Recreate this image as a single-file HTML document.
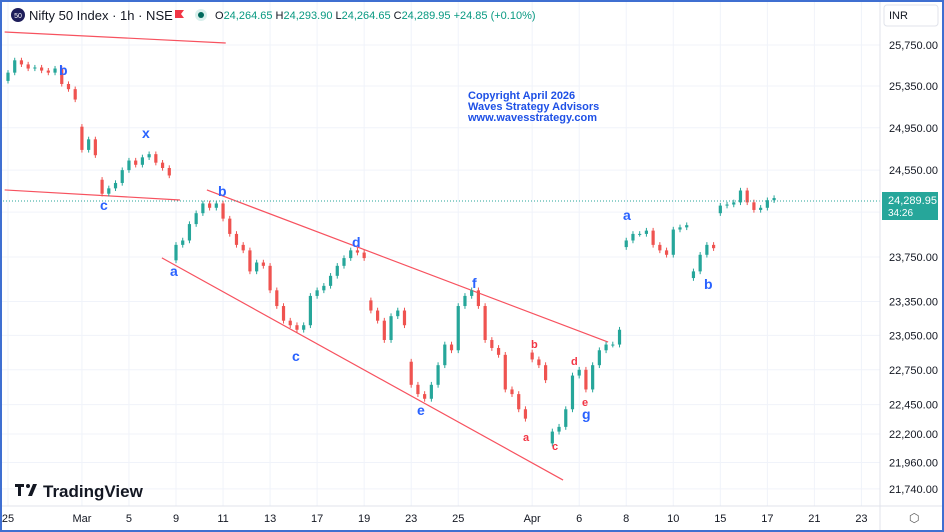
<!DOCTYPE html>
<html><head><meta charset="utf-8">
<style>
html,body{margin:0;padding:0;background:#fff;}
#wrap{position:relative;width:944px;height:532px;overflow:hidden;font-family:"Liberation Sans",sans-serif;}
svg text{font-family:"Liberation Sans",sans-serif;}
</style></head>
<body>
<div id="wrap">
<svg id="chart" width="944" height="532" xmlns="http://www.w3.org/2000/svg">
<rect x="0" y="0" width="944" height="532" fill="#fff"/>
<g id="grid"></g>
<g id="lines"></g>
<g id="candles"></g>
<line x1="0" y1="201" x2="880" y2="201" stroke="#26a69a" stroke-width="1" stroke-dasharray="1,2"/>
<g id="yaxis"></g>
<g id="xaxis"></g>
<line x1="880" y1="0" x2="880" y2="532" stroke="#e0e3eb"/>
<line x1="0" y1="506" x2="944" y2="506" stroke="#e0e3eb"/>
<rect x="882" y="192" width="56" height="28" fill="#26a69a"/>
<text x="888" y="204" font-size="11" fill="#fff">24,289.95</text>
<text x="888" y="216" font-size="10" fill="#fff">34:26</text>
<circle cx="18" cy="15" r="7" fill="#1e1e5a"/>
<text x="18" y="18" font-size="7" fill="#fff" text-anchor="middle">50</text>
<text x="29" y="20" font-size="13" fill="#131722">Nifty 50 Index · 1h · NSE</text>
<path d="M175 10 h9 l-3 4 l3 4 h-9z" fill="#f23645"/>
<circle cx="201" cy="15" r="6" fill="#d8efec"/>
<circle cx="201" cy="15" r="3" fill="#00695c"/>
<text x="215" y="19" font-size="11" fill="#131722">O<tspan fill="#089981">24,264.65</tspan> H<tspan fill="#089981">24,293.90</tspan> L<tspan fill="#089981">24,264.65</tspan> C<tspan fill="#089981">24,289.95</tspan> <tspan fill="#089981">+24.85 (+0.10%)</tspan></text>
<rect x="884" y="5" width="54" height="21" rx="3" fill="#fff" stroke="#e0e3eb"/>
<text x="889" y="19" font-size="11" fill="#131722">INR</text>
<g font-size="11" font-weight="bold" fill="#1e50e6">
<text x="468" y="99">Copyright April 2026</text>
<text x="468" y="110">Waves Strategy Advisors</text>
<text x="468" y="121">www.wavesstrategy.com</text>
</g>
<g font-size="14" font-weight="bold" fill="#2962ff">
<text x="59" y="75">b</text><text x="100" y="210">c</text><text x="142" y="138">x</text>
<text x="218" y="196">b</text><text x="170" y="276">a</text><text x="352" y="247">d</text>
<text x="292" y="361">c</text><text x="472" y="288">f</text><text x="417" y="415">e</text>
<text x="582" y="419">g</text><text x="623" y="220">a</text><text x="704" y="289">b</text>
</g>
<g font-size="11" font-weight="bold" fill="#f23645">
<text x="531" y="348">b</text><text x="523" y="441">a</text><text x="552" y="450">c</text>
<text x="571" y="365">d</text><text x="582" y="406">e</text>
</g>
<g>
<rect x="15" y="484" width="9" height="3" fill="#131722"/><rect x="18" y="484" width="3" height="12" fill="#131722"/>
<circle cx="28" cy="486" r="2" fill="#131722"/><path d="M33 484 h4 l-5 12 h-4z" fill="#131722"/>
<text x="43" y="497" font-size="17" font-weight="bold" fill="#131722">TradingView</text>
</g>
<text x="909" y="522" font-size="12" fill="#555">⬡</text>
<rect x="1" y="1" width="942" height="530" fill="none" stroke="#3f6fd1" stroke-width="2"/>
</svg>
</div>
<script>
const closes = [25480,25600,25560,25520,25530,25500,25480,25520,25370,25320,25220,
24740,24840,24690,24330,24380,24430,24550,24640,24600,24670,24700,24620,24570,24500,
23860,23900,24050,24150,24240,24200,24240,24100,23960,23860,23810,23620,23700,23670,
23450,23310,23180,23140,23100,23140,23400,23450,23490,23580,23670,23740,23810,23790,23740,
23270,23180,23010,23220,23270,23140,22620,22540,22500,22620,22790,22970,22920,23310,23400,
23450,23310,23010,22940,22880,22580,22540,22410,22330,22840,22790,22660,22220,22260,22410,
22700,22750,22580,22790,22920,22970,22970,23100,23900,23960,23960,23990,23860,23810,23770,
24000,24020,24040,23620,23770,23860,23830,24220,24230,24250,24360,24250,24180,24200,24270,24290];
const firstOpen = 25400;
const gapIdx = [11,14,25,54,60,78,81,92,102,106];
const gapOpens = [24960,24460,23720,23360,22820,22900,22120,23840,23560,24150];
const priceTicks = [25750,25350,24950,24550,24160,23750,23350,23050,22750,22450,22200,21960,21740];
const priceTickLabels = ["25,750.00","25,350.00","24,950.00","24,550.00","24,160.00","23,750.00","23,350.00","23,050.00","22,750.00","22,450.00","22,200.00","21,960.00","21,740.00"];
const dateLabels = ["25","Mar","5","9","11","13","17","19","23","25","Apr","6","8","10","15","17","21","23"];
const dateLabelIdx = [0,11,18,25,32,39,46,53,60,67,78,85,92,99,106,113,120,127];
const trendlines = [[-0.5,25878,32.4,25770],[-0.5,24365,25.6,24272],[29.6,24365,89.3,22992],[22.9,23742,82.6,21813]];

const NS="http://www.w3.org/2000/svg";
function yScale(p){return 45 + (Math.log(25750)-Math.log(p))*2622;}
function xScale(i){return 8 + i*6.72;}
function mk(tag,attrs,parent){const e=document.createElementNS(NS,tag);for(const k in attrs)e.setAttribute(k,attrs[k]);parent.appendChild(e);return e;}

const grid=document.getElementById('grid'), ya=document.getElementById('yaxis'), xa=document.getElementById('xaxis');
priceTicks.forEach((p,k)=>{
  const y=yScale(p);
  const l=mk('line',{x1:0,x2:880,y1:y,y2:y,stroke:'#f0f3fa'},grid);
  
  
  const t=mk('text',{x:889,y:y+4,'font-size':11,fill:'#131722'},ya);
  t.textContent=priceTickLabels[k];
  
  
});
dateLabels.forEach((d,k)=>{
  const x=xScale(dateLabelIdx[k]);
  const l=mk('line',{x1:x,x2:x,y1:0,y2:506,stroke:'#f0f3fa'},grid);
  
  
  const t=mk('text',{x:x,y:522,'font-size':11,fill:'#131722','text-anchor':'middle'},xa);
  t.textContent=d;
  
  
});
const lg=document.getElementById('lines');
trendlines.forEach(t=>{
  const l=mk('line',{x1:xScale(t[0]),y1:yScale(t[1]),x2:xScale(t[2]),y2:yScale(t[3]),stroke:'#f7525f','stroke-width':1.2},lg);
  
  
});
const cg=document.getElementById('candles');
closes.forEach((c,i)=>{
  let o = i===0?firstOpen:closes[i-1];
  const g=gapIdx.indexOf(i);
  if(g>=0) o=gapOpens[g];
  const up=c>=o, col=up?'#26a69a':'#ef5350';
  const hi=Math.max(o,c)+25, lo=Math.min(o,c)-25;
  const x=xScale(i);
  const w=mk('line',{x1:x,x2:x,y1:yScale(hi),y2:yScale(lo),stroke:col,'stroke-width':1},cg);
  
  
  const yt=yScale(Math.max(o,c)), yb=yScale(Math.min(o,c));
  const r=mk('rect',{x:x-1.6,y:yt,width:3.2,height:Math.max(1,yb-yt),fill:col},cg);
  
  
});
</script>
</body></html>
